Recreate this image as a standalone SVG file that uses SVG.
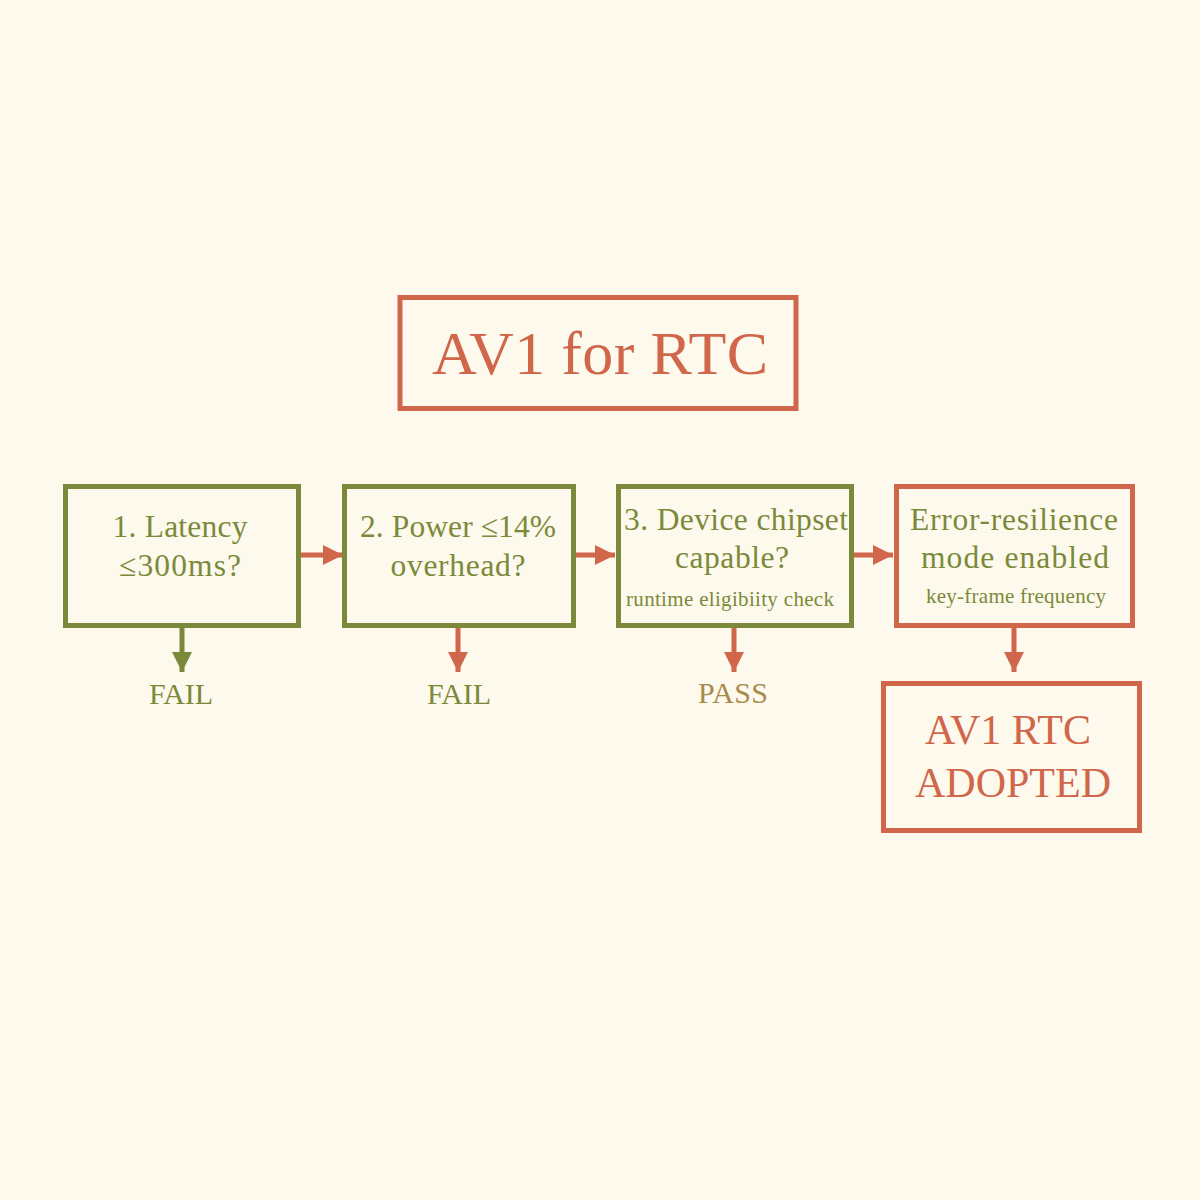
<svg xmlns="http://www.w3.org/2000/svg" width="1200" height="1200" viewBox="0 0 1200 1200">
<defs>
<style>
.bg{fill:#fdf9ec}
.box{fill:#fdf9ec;stroke-width:5}
.og{stroke:#7a8a3a}
.or{stroke:#d0664a}
text{font-family:"Liberation Serif","DejaVu Serif",serif;text-anchor:middle}
.t-og{fill:#7a8a3a}
.t-or{fill:#d0664a}
.t-pass{fill:#a88a4a}
.main{font-size:31.5px}
.sub{font-size:21px}
.line{stroke-width:5;fill:none}
</style>
<marker id="ah-or" viewBox="0 0 10 10" refX="10" refY="5" markerWidth="4" markerHeight="4" markerUnits="strokeWidth" orient="auto"><path d="M0,0L10,5L0,10z" fill="#d0664a"/></marker>
<marker id="ah-og" viewBox="0 0 10 10" refX="10" refY="5" markerWidth="4" markerHeight="4" markerUnits="strokeWidth" orient="auto"><path d="M0,0L10,5L0,10z" fill="#7a8a3a"/></marker>
</defs>
<rect class="bg" width="1200" height="1200"/>
<g id="title">
<rect class="box or" x="400" y="297.5" width="396" height="111" stroke-width="4"/>
<text class="t-or" x="600" y="374" font-size="62" textLength="336">AV1 for RTC</text>
</g>
<g id="connectors">
<line class="line" stroke="#d0664a" x1="301" y1="555" x2="343" y2="555" marker-end="url(#ah-or)"/>
<line class="line" stroke="#d0664a" x1="576" y1="555" x2="615" y2="555" marker-end="url(#ah-or)"/>
<line class="line" stroke="#d0664a" x1="854" y1="555" x2="893" y2="555" marker-end="url(#ah-or)"/>
<line class="line" stroke="#7a8a3a" x1="182" y1="627" x2="182" y2="672" marker-end="url(#ah-og)"/>
<line class="line" stroke="#d0664a" x1="458" y1="627" x2="458" y2="672" marker-end="url(#ah-or)"/>
<line class="line" stroke="#d0664a" x1="734" y1="627" x2="734" y2="672" marker-end="url(#ah-or)"/>
<line class="line" stroke="#d0664a" x1="1014" y1="627" x2="1014" y2="672" marker-end="url(#ah-or)"/>
</g>
<g id="n1">
<rect class="box og" x="65.5" y="486.5" width="233" height="139"/>
<text class="t-og main" x="180" y="537" textLength="135">1. Latency</text>
<text class="t-og main" x="180" y="576" textLength="122">≤300ms?</text>
</g>
<g id="n2">
<rect class="box og" x="344.5" y="486.5" width="229" height="139"/>
<text class="t-og main" x="458" y="537" textLength="196">2. Power ≤14%</text>
<text class="t-og main" x="458" y="576" textLength="135">overhead?</text>
</g>
<g id="n3">
<rect class="box og" x="618.5" y="486.5" width="233" height="139"/>
<text class="t-og main" x="736" y="530" textLength="224">3. Device chipset</text>
<text class="t-og main" x="732" y="568" textLength="114">capable?</text>
<text class="t-og sub" x="730" y="606" textLength="208">runtime eligibiity check</text>
</g>
<g id="n4">
<rect class="box or" x="896.5" y="486.5" width="236" height="139"/>
<text class="t-og main" x="1014" y="530" textLength="208">Error-resilience</text>
<text class="t-og main" x="1015" y="568" textLength="188">mode enabled</text>
<text class="t-og sub" x="1016" y="603" textLength="180">key-frame frequency</text>
</g>
<g id="n5">
<rect class="box or" x="883.5" y="683.5" width="256" height="147"/>
<text class="t-or" x="1008" y="744" font-size="42">AV1 RTC</text>
<text class="t-or" x="1013" y="797" font-size="42">ADOPTED</text>
</g>
<g id="fail1"><text class="t-og" x="181" y="704" font-size="30" textLength="64">FAIL</text></g>
<g id="fail2"><text class="t-og" x="459" y="704" font-size="30" textLength="64">FAIL</text></g>
<g id="pass"><text class="t-pass" x="733" y="703" font-size="30" textLength="70">PASS</text></g>
</svg>
